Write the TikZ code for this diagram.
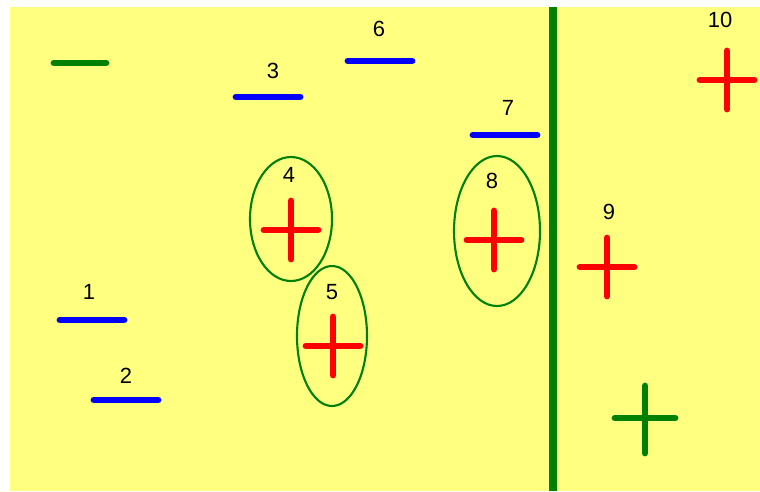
\documentclass[tikz,border=0pt]{standalone}
\usepackage{fontspec}
\setmainfont{Liberation Sans}
\definecolor{paper}{RGB}{255,255,128}
\definecolor{leaf}{RGB}{0,128,0}
\begin{document}
\begin{tikzpicture}[x=0.02cm, y=-0.02cm, line cap=round,
  minusmark/.style={blue, line width=3.9pt},
  plusmark/.style={red, line width=3.9pt},
  ring/.style={leaf, line width=1.2pt},
  num/.style={font=\fontsize{12.5}{14}\selectfont, inner sep=0pt}]

% Background
\useasboundingbox (0,0) rectangle (760,491);
\fill[paper] (10,7) rectangle (760,491);

% Separating line
\draw[leaf, line width=4.3pt, line cap=butt] (553,7) -- (553,491);

% Negative examples
\foreach \n/\x/\y/\lx/\ly in {1/92/320/89/292, 2/126/400/126/376, 3/268/97/273/71,
                              6/380/61/379/29, 7/505/135/508/108} {
  \draw[minusmark] (\x-32,\y) -- (\x+32,\y);
  \node[num] (neg\n) at (\lx,\ly) {\n};
}

% Positive examples
\foreach \n/\x/\y/\lx/\ly in {4/291/230/289/175, 5/333/346/332/292, 8/494/240/492/181,
                              9/607/267/609/212, 10/727/80/720/20} {
  \draw[plusmark] (\x-27,\y) -- (\x+27,\y);
  \draw[plusmark] (\x,\y-29) -- (\x,\y+29);
  \node[num] (pos\n) at (\lx,\ly) {\n};
}

% Circled examples
\draw[ring] (291,219) ellipse [x radius=41, y radius=62];
\draw[ring] (332,336) ellipse [x radius=35, y radius=70];
\draw[ring] (497,231) ellipse [x radius=43, y radius=75];

% Legend marks
\draw[leaf, line width=3.9pt] (54,63) -- (106,63);
\draw[leaf, line width=3.9pt] (615,418) -- (675,418);
\draw[leaf, line width=3.9pt] (645,386) -- (645,453);

\end{tikzpicture}
\end{document}
